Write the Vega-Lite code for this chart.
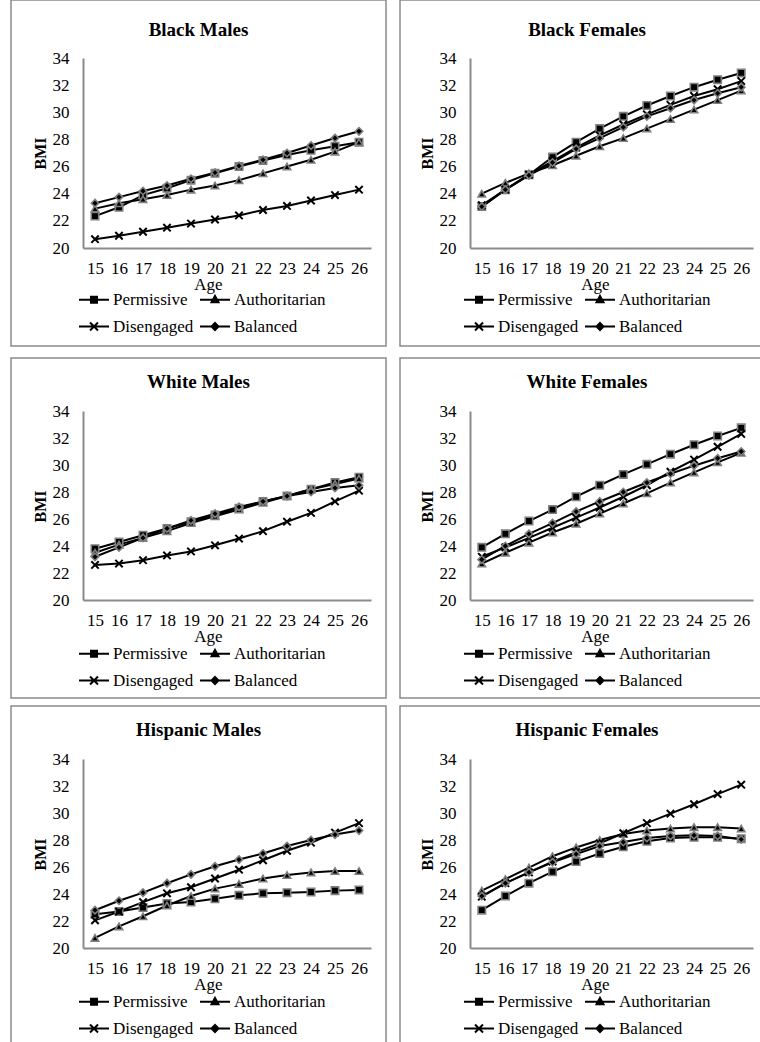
{
"$schema": "https://vega.github.io/schema/vega-lite/v6.json",
"padding": {"left": 10, "top": -1, "right": 0, "bottom": 0},
"background": "white",
"datasets": {
"bmi": [
{"g":"BM","s":"Permissive","age":15,"bmi":22.35},{"g":"BM","s":"Permissive","age":16,"bmi":23.0},{"g":"BM","s":"Permissive","age":17,"bmi":23.9},{"g":"BM","s":"Permissive","age":18,"bmi":24.4},{"g":"BM","s":"Permissive","age":19,"bmi":25.0},{"g":"BM","s":"Permissive","age":20,"bmi":25.5},{"g":"BM","s":"Permissive","age":21,"bmi":26.0},{"g":"BM","s":"Permissive","age":22,"bmi":26.45},{"g":"BM","s":"Permissive","age":23,"bmi":26.85},{"g":"BM","s":"Permissive","age":24,"bmi":27.2},{"g":"BM","s":"Permissive","age":25,"bmi":27.5},{"g":"BM","s":"Permissive","age":26,"bmi":27.8},
{"g":"BM","s":"Authoritarian","age":15,"bmi":22.9},{"g":"BM","s":"Authoritarian","age":16,"bmi":23.3},{"g":"BM","s":"Authoritarian","age":17,"bmi":23.6},{"g":"BM","s":"Authoritarian","age":18,"bmi":23.9},{"g":"BM","s":"Authoritarian","age":19,"bmi":24.3},{"g":"BM","s":"Authoritarian","age":20,"bmi":24.6},{"g":"BM","s":"Authoritarian","age":21,"bmi":25.0},{"g":"BM","s":"Authoritarian","age":22,"bmi":25.5},{"g":"BM","s":"Authoritarian","age":23,"bmi":26.0},{"g":"BM","s":"Authoritarian","age":24,"bmi":26.5},{"g":"BM","s":"Authoritarian","age":25,"bmi":27.1},{"g":"BM","s":"Authoritarian","age":26,"bmi":27.8},
{"g":"BM","s":"Disengaged","age":15,"bmi":20.65},{"g":"BM","s":"Disengaged","age":16,"bmi":20.9},{"g":"BM","s":"Disengaged","age":17,"bmi":21.2},{"g":"BM","s":"Disengaged","age":18,"bmi":21.5},{"g":"BM","s":"Disengaged","age":19,"bmi":21.8},{"g":"BM","s":"Disengaged","age":20,"bmi":22.1},{"g":"BM","s":"Disengaged","age":21,"bmi":22.4},{"g":"BM","s":"Disengaged","age":22,"bmi":22.8},{"g":"BM","s":"Disengaged","age":23,"bmi":23.1},{"g":"BM","s":"Disengaged","age":24,"bmi":23.5},{"g":"BM","s":"Disengaged","age":25,"bmi":23.9},{"g":"BM","s":"Disengaged","age":26,"bmi":24.3},
{"g":"BM","s":"Balanced","age":15,"bmi":23.3},{"g":"BM","s":"Balanced","age":16,"bmi":23.75},{"g":"BM","s":"Balanced","age":17,"bmi":24.2},{"g":"BM","s":"Balanced","age":18,"bmi":24.6},{"g":"BM","s":"Balanced","age":19,"bmi":25.1},{"g":"BM","s":"Balanced","age":20,"bmi":25.55},{"g":"BM","s":"Balanced","age":21,"bmi":26.05},{"g":"BM","s":"Balanced","age":22,"bmi":26.5},{"g":"BM","s":"Balanced","age":23,"bmi":27.0},{"g":"BM","s":"Balanced","age":24,"bmi":27.55},{"g":"BM","s":"Balanced","age":25,"bmi":28.1},{"g":"BM","s":"Balanced","age":26,"bmi":28.6},
{"g":"BF","s":"Permissive","age":15,"bmi":23.05},{"g":"BF","s":"Permissive","age":16,"bmi":24.3},{"g":"BF","s":"Permissive","age":17,"bmi":25.4},{"g":"BF","s":"Permissive","age":18,"bmi":26.7},{"g":"BF","s":"Permissive","age":19,"bmi":27.8},{"g":"BF","s":"Permissive","age":20,"bmi":28.8},{"g":"BF","s":"Permissive","age":21,"bmi":29.7},{"g":"BF","s":"Permissive","age":22,"bmi":30.5},{"g":"BF","s":"Permissive","age":23,"bmi":31.2},{"g":"BF","s":"Permissive","age":24,"bmi":31.85},{"g":"BF","s":"Permissive","age":25,"bmi":32.4},{"g":"BF","s":"Permissive","age":26,"bmi":32.9},
{"g":"BF","s":"Authoritarian","age":15,"bmi":24.0},{"g":"BF","s":"Authoritarian","age":16,"bmi":24.8},{"g":"BF","s":"Authoritarian","age":17,"bmi":25.5},{"g":"BF","s":"Authoritarian","age":18,"bmi":26.1},{"g":"BF","s":"Authoritarian","age":19,"bmi":26.8},{"g":"BF","s":"Authoritarian","age":20,"bmi":27.5},{"g":"BF","s":"Authoritarian","age":21,"bmi":28.1},{"g":"BF","s":"Authoritarian","age":22,"bmi":28.8},{"g":"BF","s":"Authoritarian","age":23,"bmi":29.5},{"g":"BF","s":"Authoritarian","age":24,"bmi":30.2},{"g":"BF","s":"Authoritarian","age":25,"bmi":30.9},{"g":"BF","s":"Authoritarian","age":26,"bmi":31.6},
{"g":"BF","s":"Disengaged","age":15,"bmi":23.15},{"g":"BF","s":"Disengaged","age":16,"bmi":24.3},{"g":"BF","s":"Disengaged","age":17,"bmi":25.4},{"g":"BF","s":"Disengaged","age":18,"bmi":26.4},{"g":"BF","s":"Disengaged","age":19,"bmi":27.4},{"g":"BF","s":"Disengaged","age":20,"bmi":28.3},{"g":"BF","s":"Disengaged","age":21,"bmi":29.1},{"g":"BF","s":"Disengaged","age":22,"bmi":29.85},{"g":"BF","s":"Disengaged","age":23,"bmi":30.55},{"g":"BF","s":"Disengaged","age":24,"bmi":31.2},{"g":"BF","s":"Disengaged","age":25,"bmi":31.7},{"g":"BF","s":"Disengaged","age":26,"bmi":32.3},
{"g":"BF","s":"Balanced","age":15,"bmi":23.05},{"g":"BF","s":"Balanced","age":16,"bmi":24.3},{"g":"BF","s":"Balanced","age":17,"bmi":25.35},{"g":"BF","s":"Balanced","age":18,"bmi":26.3},{"g":"BF","s":"Balanced","age":19,"bmi":27.3},{"g":"BF","s":"Balanced","age":20,"bmi":28.1},{"g":"BF","s":"Balanced","age":21,"bmi":28.9},{"g":"BF","s":"Balanced","age":22,"bmi":29.7},{"g":"BF","s":"Balanced","age":23,"bmi":30.3},{"g":"BF","s":"Balanced","age":24,"bmi":30.9},{"g":"BF","s":"Balanced","age":25,"bmi":31.4},{"g":"BF","s":"Balanced","age":26,"bmi":31.85},
{"g":"WM","s":"Permissive","age":15,"bmi":23.8},{"g":"WM","s":"Permissive","age":16,"bmi":24.3},{"g":"WM","s":"Permissive","age":17,"bmi":24.8},{"g":"WM","s":"Permissive","age":18,"bmi":25.3},{"g":"WM","s":"Permissive","age":19,"bmi":25.8},{"g":"WM","s":"Permissive","age":20,"bmi":26.3},{"g":"WM","s":"Permissive","age":21,"bmi":26.8},{"g":"WM","s":"Permissive","age":22,"bmi":27.3},{"g":"WM","s":"Permissive","age":23,"bmi":27.7},{"g":"WM","s":"Permissive","age":24,"bmi":28.2},{"g":"WM","s":"Permissive","age":25,"bmi":28.7},{"g":"WM","s":"Permissive","age":26,"bmi":29.1},
{"g":"WM","s":"Authoritarian","age":15,"bmi":23.5},{"g":"WM","s":"Authoritarian","age":16,"bmi":24.1},{"g":"WM","s":"Authoritarian","age":17,"bmi":24.6},{"g":"WM","s":"Authoritarian","age":18,"bmi":25.1},{"g":"WM","s":"Authoritarian","age":19,"bmi":25.7},{"g":"WM","s":"Authoritarian","age":20,"bmi":26.2},{"g":"WM","s":"Authoritarian","age":21,"bmi":26.7},{"g":"WM","s":"Authoritarian","age":22,"bmi":27.2},{"g":"WM","s":"Authoritarian","age":23,"bmi":27.7},{"g":"WM","s":"Authoritarian","age":24,"bmi":28.2},{"g":"WM","s":"Authoritarian","age":25,"bmi":28.6},{"g":"WM","s":"Authoritarian","age":26,"bmi":29.0},
{"g":"WM","s":"Disengaged","age":15,"bmi":22.6},{"g":"WM","s":"Disengaged","age":16,"bmi":22.7},{"g":"WM","s":"Disengaged","age":17,"bmi":22.95},{"g":"WM","s":"Disengaged","age":18,"bmi":23.3},{"g":"WM","s":"Disengaged","age":19,"bmi":23.6},{"g":"WM","s":"Disengaged","age":20,"bmi":24.05},{"g":"WM","s":"Disengaged","age":21,"bmi":24.55},{"g":"WM","s":"Disengaged","age":22,"bmi":25.1},{"g":"WM","s":"Disengaged","age":23,"bmi":25.8},{"g":"WM","s":"Disengaged","age":24,"bmi":26.45},{"g":"WM","s":"Disengaged","age":25,"bmi":27.3},{"g":"WM","s":"Disengaged","age":26,"bmi":28.1},
{"g":"WM","s":"Balanced","age":15,"bmi":23.2},{"g":"WM","s":"Balanced","age":16,"bmi":23.9},{"g":"WM","s":"Balanced","age":17,"bmi":24.6},{"g":"WM","s":"Balanced","age":18,"bmi":25.3},{"g":"WM","s":"Balanced","age":19,"bmi":25.9},{"g":"WM","s":"Balanced","age":20,"bmi":26.4},{"g":"WM","s":"Balanced","age":21,"bmi":26.9},{"g":"WM","s":"Balanced","age":22,"bmi":27.3},{"g":"WM","s":"Balanced","age":23,"bmi":27.7},{"g":"WM","s":"Balanced","age":24,"bmi":28.0},{"g":"WM","s":"Balanced","age":25,"bmi":28.3},{"g":"WM","s":"Balanced","age":26,"bmi":28.5},
{"g":"WF","s":"Permissive","age":15,"bmi":23.9},{"g":"WF","s":"Permissive","age":16,"bmi":24.9},{"g":"WF","s":"Permissive","age":17,"bmi":25.85},{"g":"WF","s":"Permissive","age":18,"bmi":26.7},{"g":"WF","s":"Permissive","age":19,"bmi":27.65},{"g":"WF","s":"Permissive","age":20,"bmi":28.5},{"g":"WF","s":"Permissive","age":21,"bmi":29.3},{"g":"WF","s":"Permissive","age":22,"bmi":30.05},{"g":"WF","s":"Permissive","age":23,"bmi":30.8},{"g":"WF","s":"Permissive","age":24,"bmi":31.5},{"g":"WF","s":"Permissive","age":25,"bmi":32.15},{"g":"WF","s":"Permissive","age":26,"bmi":32.75},
{"g":"WF","s":"Authoritarian","age":15,"bmi":22.7},{"g":"WF","s":"Authoritarian","age":16,"bmi":23.5},{"g":"WF","s":"Authoritarian","age":17,"bmi":24.25},{"g":"WF","s":"Authoritarian","age":18,"bmi":25.0},{"g":"WF","s":"Authoritarian","age":19,"bmi":25.65},{"g":"WF","s":"Authoritarian","age":20,"bmi":26.4},{"g":"WF","s":"Authoritarian","age":21,"bmi":27.15},{"g":"WF","s":"Authoritarian","age":22,"bmi":27.9},{"g":"WF","s":"Authoritarian","age":23,"bmi":28.7},{"g":"WF","s":"Authoritarian","age":24,"bmi":29.45},{"g":"WF","s":"Authoritarian","age":25,"bmi":30.2},{"g":"WF","s":"Authoritarian","age":26,"bmi":30.9},
{"g":"WF","s":"Disengaged","age":15,"bmi":23.2},{"g":"WF","s":"Disengaged","age":16,"bmi":23.9},{"g":"WF","s":"Disengaged","age":17,"bmi":24.6},{"g":"WF","s":"Disengaged","age":18,"bmi":25.35},{"g":"WF","s":"Disengaged","age":19,"bmi":26.1},{"g":"WF","s":"Disengaged","age":20,"bmi":26.85},{"g":"WF","s":"Disengaged","age":21,"bmi":27.65},{"g":"WF","s":"Disengaged","age":22,"bmi":28.5},{"g":"WF","s":"Disengaged","age":23,"bmi":29.5},{"g":"WF","s":"Disengaged","age":24,"bmi":30.4},{"g":"WF","s":"Disengaged","age":25,"bmi":31.35},{"g":"WF","s":"Disengaged","age":26,"bmi":32.3},
{"g":"WF","s":"Balanced","age":15,"bmi":23.0},{"g":"WF","s":"Balanced","age":16,"bmi":24.0},{"g":"WF","s":"Balanced","age":17,"bmi":24.9},{"g":"WF","s":"Balanced","age":18,"bmi":25.7},{"g":"WF","s":"Balanced","age":19,"bmi":26.55},{"g":"WF","s":"Balanced","age":20,"bmi":27.3},{"g":"WF","s":"Balanced","age":21,"bmi":28.0},{"g":"WF","s":"Balanced","age":22,"bmi":28.7},{"g":"WF","s":"Balanced","age":23,"bmi":29.35},{"g":"WF","s":"Balanced","age":24,"bmi":29.95},{"g":"WF","s":"Balanced","age":25,"bmi":30.5},{"g":"WF","s":"Balanced","age":26,"bmi":31.0},
{"g":"HM","s":"Permissive","age":15,"bmi":22.5},{"g":"HM","s":"Permissive","age":16,"bmi":22.7},{"g":"HM","s":"Permissive","age":17,"bmi":23.0},{"g":"HM","s":"Permissive","age":18,"bmi":23.3},{"g":"HM","s":"Permissive","age":19,"bmi":23.4},{"g":"HM","s":"Permissive","age":20,"bmi":23.65},{"g":"HM","s":"Permissive","age":21,"bmi":23.9},{"g":"HM","s":"Permissive","age":22,"bmi":24.05},{"g":"HM","s":"Permissive","age":23,"bmi":24.1},{"g":"HM","s":"Permissive","age":24,"bmi":24.15},{"g":"HM","s":"Permissive","age":25,"bmi":24.25},{"g":"HM","s":"Permissive","age":26,"bmi":24.3},
{"g":"HM","s":"Authoritarian","age":15,"bmi":20.75},{"g":"HM","s":"Authoritarian","age":16,"bmi":21.6},{"g":"HM","s":"Authoritarian","age":17,"bmi":22.35},{"g":"HM","s":"Authoritarian","age":18,"bmi":23.15},{"g":"HM","s":"Authoritarian","age":19,"bmi":23.85},{"g":"HM","s":"Authoritarian","age":20,"bmi":24.4},{"g":"HM","s":"Authoritarian","age":21,"bmi":24.75},{"g":"HM","s":"Authoritarian","age":22,"bmi":25.15},{"g":"HM","s":"Authoritarian","age":23,"bmi":25.4},{"g":"HM","s":"Authoritarian","age":24,"bmi":25.6},{"g":"HM","s":"Authoritarian","age":25,"bmi":25.7},{"g":"HM","s":"Authoritarian","age":26,"bmi":25.7},
{"g":"HM","s":"Disengaged","age":15,"bmi":22.05},{"g":"HM","s":"Disengaged","age":16,"bmi":22.7},{"g":"HM","s":"Disengaged","age":17,"bmi":23.4},{"g":"HM","s":"Disengaged","age":18,"bmi":24.05},{"g":"HM","s":"Disengaged","age":19,"bmi":24.5},{"g":"HM","s":"Disengaged","age":20,"bmi":25.15},{"g":"HM","s":"Disengaged","age":21,"bmi":25.8},{"g":"HM","s":"Disengaged","age":22,"bmi":26.5},{"g":"HM","s":"Disengaged","age":23,"bmi":27.2},{"g":"HM","s":"Disengaged","age":24,"bmi":27.8},{"g":"HM","s":"Disengaged","age":25,"bmi":28.55},{"g":"HM","s":"Disengaged","age":26,"bmi":29.25},
{"g":"HM","s":"Balanced","age":15,"bmi":22.8},{"g":"HM","s":"Balanced","age":16,"bmi":23.5},{"g":"HM","s":"Balanced","age":17,"bmi":24.1},{"g":"HM","s":"Balanced","age":18,"bmi":24.8},{"g":"HM","s":"Balanced","age":19,"bmi":25.45},{"g":"HM","s":"Balanced","age":20,"bmi":26.05},{"g":"HM","s":"Balanced","age":21,"bmi":26.55},{"g":"HM","s":"Balanced","age":22,"bmi":27.0},{"g":"HM","s":"Balanced","age":23,"bmi":27.55},{"g":"HM","s":"Balanced","age":24,"bmi":28.0},{"g":"HM","s":"Balanced","age":25,"bmi":28.4},{"g":"HM","s":"Balanced","age":26,"bmi":28.7},
{"g":"HF","s":"Permissive","age":15,"bmi":22.8},{"g":"HF","s":"Permissive","age":16,"bmi":23.85},{"g":"HF","s":"Permissive","age":17,"bmi":24.8},{"g":"HF","s":"Permissive","age":18,"bmi":25.65},{"g":"HF","s":"Permissive","age":19,"bmi":26.4},{"g":"HF","s":"Permissive","age":20,"bmi":27.0},{"g":"HF","s":"Permissive","age":21,"bmi":27.5},{"g":"HF","s":"Permissive","age":22,"bmi":27.9},{"g":"HF","s":"Permissive","age":23,"bmi":28.15},{"g":"HF","s":"Permissive","age":24,"bmi":28.2},{"g":"HF","s":"Permissive","age":25,"bmi":28.2},{"g":"HF","s":"Permissive","age":26,"bmi":28.1},
{"g":"HF","s":"Authoritarian","age":15,"bmi":24.25},{"g":"HF","s":"Authoritarian","age":16,"bmi":25.1},{"g":"HF","s":"Authoritarian","age":17,"bmi":25.95},{"g":"HF","s":"Authoritarian","age":18,"bmi":26.8},{"g":"HF","s":"Authoritarian","age":19,"bmi":27.45},{"g":"HF","s":"Authoritarian","age":20,"bmi":28.0},{"g":"HF","s":"Authoritarian","age":21,"bmi":28.45},{"g":"HF","s":"Authoritarian","age":22,"bmi":28.7},{"g":"HF","s":"Authoritarian","age":23,"bmi":28.85},{"g":"HF","s":"Authoritarian","age":24,"bmi":28.95},{"g":"HF","s":"Authoritarian","age":25,"bmi":28.95},{"g":"HF","s":"Authoritarian","age":26,"bmi":28.85},
{"g":"HF","s":"Disengaged","age":15,"bmi":23.8},{"g":"HF","s":"Disengaged","age":16,"bmi":24.8},{"g":"HF","s":"Disengaged","age":17,"bmi":25.6},{"g":"HF","s":"Disengaged","age":18,"bmi":26.4},{"g":"HF","s":"Disengaged","age":19,"bmi":27.1},{"g":"HF","s":"Disengaged","age":20,"bmi":27.75},{"g":"HF","s":"Disengaged","age":21,"bmi":28.5},{"g":"HF","s":"Disengaged","age":22,"bmi":29.25},{"g":"HF","s":"Disengaged","age":23,"bmi":29.95},{"g":"HF","s":"Disengaged","age":24,"bmi":30.65},{"g":"HF","s":"Disengaged","age":25,"bmi":31.4},{"g":"HF","s":"Disengaged","age":26,"bmi":32.1},
{"g":"HF","s":"Balanced","age":15,"bmi":23.85},{"g":"HF","s":"Balanced","age":16,"bmi":24.8},{"g":"HF","s":"Balanced","age":17,"bmi":25.6},{"g":"HF","s":"Balanced","age":18,"bmi":26.35},{"g":"HF","s":"Balanced","age":19,"bmi":26.95},{"g":"HF","s":"Balanced","age":20,"bmi":27.55},{"g":"HF","s":"Balanced","age":21,"bmi":27.85},{"g":"HF","s":"Balanced","age":22,"bmi":28.15},{"g":"HF","s":"Balanced","age":23,"bmi":28.3},{"g":"HF","s":"Balanced","age":24,"bmi":28.35},{"g":"HF","s":"Balanced","age":25,"bmi":28.3},{"g":"HF","s":"Balanced","age":26,"bmi":28.05}
]
},
"data": {"name": "bmi"},
"spacing": 10,
"resolve": {"scale": {"x": "independent", "y": "independent", "shape": "independent"}, "legend": {"shape": "independent"}},
"vconcat": [
{
"hconcat": [
{
"width": 375, "height": 346,
"title": {"text": "Black Males", "offset": -40},
"transform": [{"filter": "datum.g === 'BM'"}],
"encoding": {
  "x": {"field": "age", "type": "ordinal", "scale": {"type": "point", "padding": 0.5, "range": [72, 360]}, "axis": {"offset": -98, "title": "Age", "titleX": 197, "titleY": 41}},
  "y": {"field": "bmi", "type": "quantitative", "scale": {"domain": [20, 34], "range": [248, 58], "nice": false, "zero": false}, "axis": {"offset": -72, "title": "BMI", "titleX": -38, "titleY": 153}}
},
"layer": [
{"mark": {"type": "line", "color": "black", "strokeWidth": 2}, "encoding": {"detail": {"field": "s"}}},
{"transform": [{"filter": "datum.s === 'Permissive'"}], "mark": {"type": "point", "shape": "square", "filled": true, "fill": "black", "stroke": "#7f7f7f", "strokeWidth": 1.6, "size": 55, "opacity": 1}},
{"transform": [{"filter": "datum.s === 'Authoritarian'"}], "mark": {"type": "point", "shape": "triangle-up", "filled": true, "fill": "black", "stroke": "#7f7f7f", "strokeWidth": 1.6, "size": 55, "opacity": 1}},
{"transform": [{"filter": "datum.s === 'Disengaged'"}], "mark": {"type": "point", "shape": "M-1,-1L1,1M-1,1L1,-1", "filled": false, "stroke": "black", "strokeWidth": 2, "size": 55, "opacity": 1}},
{"transform": [{"filter": "datum.s === 'Balanced'"}], "mark": {"type": "point", "shape": "diamond", "filled": true, "fill": "black", "stroke": "#7f7f7f", "strokeWidth": 1.6, "size": 55, "opacity": 1}},
{"mark": {"type": "point", "filled": false, "color": "black", "strokeWidth": 2, "opacity": 0},
 "encoding": {"shape": {"field": "s", "type": "nominal", "scale": {"domain": ["Permissive", "Authoritarian", "Disengaged", "Balanced"], "range": ["M-1,0H2.53M0.412,-0.353H1.118V0.353H0.412ZM0.647,-0.118H0.883V0.118H0.647Z", "M-1,0H2.53M0.765,-0.45L1.175,0.3H0.355ZM0.765,-0.15L0.9,0.1H0.63Z", "M-1,0H2.53M0.295,-0.47L1.235,0.47M0.295,0.47L1.235,-0.47", "M-1,0H2.53M0.765,-0.41L1.175,0L0.765,0.41L0.355,0ZM0.765,-0.14L0.905,0L0.765,0.14L0.625,0Z"]}, "legend": {"legendX": 67, "legendY": 290, "symbolStrokeWidth": 2}}}}
]
},
{
"width": 374, "height": 346,
"title": {"text": "Black Females", "offset": -40},
"transform": [{"filter": "datum.g === 'BF'"}],
"encoding": {
  "x": {"field": "age", "type": "ordinal", "scale": {"type": "point", "padding": 0.5, "range": [70, 353]}, "axis": {"offset": -98, "title": "Age", "titleX": 195, "titleY": 41}},
  "y": {"field": "bmi", "type": "quantitative", "scale": {"domain": [20, 34], "range": [248, 58], "nice": false, "zero": false}, "axis": {"offset": -70, "title": "BMI", "titleX": -38, "titleY": 153}}
},
"layer": [
{"mark": {"type": "line", "color": "black", "strokeWidth": 2}, "encoding": {"detail": {"field": "s"}}},
{"transform": [{"filter": "datum.s === 'Permissive'"}], "mark": {"type": "point", "shape": "square", "filled": true, "fill": "black", "stroke": "#7f7f7f", "strokeWidth": 1.6, "size": 55, "opacity": 1}},
{"transform": [{"filter": "datum.s === 'Authoritarian'"}], "mark": {"type": "point", "shape": "triangle-up", "filled": true, "fill": "black", "stroke": "#7f7f7f", "strokeWidth": 1.6, "size": 55, "opacity": 1}},
{"transform": [{"filter": "datum.s === 'Disengaged'"}], "mark": {"type": "point", "shape": "M-1,-1L1,1M-1,1L1,-1", "filled": false, "stroke": "black", "strokeWidth": 2, "size": 55, "opacity": 1}},
{"transform": [{"filter": "datum.s === 'Balanced'"}], "mark": {"type": "point", "shape": "diamond", "filled": true, "fill": "black", "stroke": "#7f7f7f", "strokeWidth": 1.6, "size": 55, "opacity": 1}},
{"mark": {"type": "point", "filled": false, "color": "black", "strokeWidth": 2, "opacity": 0},
 "encoding": {"shape": {"field": "s", "type": "nominal", "scale": {"domain": ["Permissive", "Authoritarian", "Disengaged", "Balanced"], "range": ["M-1,0H2.53M0.412,-0.353H1.118V0.353H0.412ZM0.647,-0.118H0.883V0.118H0.647Z", "M-1,0H2.53M0.765,-0.45L1.175,0.3H0.355ZM0.765,-0.15L0.9,0.1H0.63Z", "M-1,0H2.53M0.295,-0.47L1.235,0.47M0.295,0.47L1.235,-0.47", "M-1,0H2.53M0.765,-0.41L1.175,0L0.765,0.41L0.355,0ZM0.765,-0.14L0.905,0L0.765,0.14L0.625,0Z"]}, "legend": {"legendX": 63, "legendY": 290, "symbolStrokeWidth": 2}}}}
]
}
],
"spacing": 12,
"resolve": {"scale": {"x": "independent", "y": "independent", "shape": "independent"}, "legend": {"shape": "independent"}}
},
{
"vconcat": [
{
"hconcat": [
{
"width": 375, "height": 340,
"title": {"text": "White Males", "offset": -34},
"transform": [{"filter": "datum.g === 'WM'"}],
"encoding": {
  "x": {"field": "age", "type": "ordinal", "scale": {"type": "point", "padding": 0.5, "range": [72, 360]}, "axis": {"offset": -98, "title": "Age", "titleX": 197, "titleY": 41}},
  "y": {"field": "bmi", "type": "quantitative", "scale": {"domain": [20, 34], "range": [242, 53], "nice": false, "zero": false}, "axis": {"offset": -72, "title": "BMI", "titleX": -38, "titleY": 148}}
},
"layer": [
{"mark": {"type": "line", "color": "black", "strokeWidth": 2}, "encoding": {"detail": {"field": "s"}}},
{"transform": [{"filter": "datum.s === 'Permissive'"}], "mark": {"type": "point", "shape": "square", "filled": true, "fill": "black", "stroke": "#7f7f7f", "strokeWidth": 1.6, "size": 55, "opacity": 1}},
{"transform": [{"filter": "datum.s === 'Authoritarian'"}], "mark": {"type": "point", "shape": "triangle-up", "filled": true, "fill": "black", "stroke": "#7f7f7f", "strokeWidth": 1.6, "size": 55, "opacity": 1}},
{"transform": [{"filter": "datum.s === 'Disengaged'"}], "mark": {"type": "point", "shape": "M-1,-1L1,1M-1,1L1,-1", "filled": false, "stroke": "black", "strokeWidth": 2, "size": 55, "opacity": 1}},
{"transform": [{"filter": "datum.s === 'Balanced'"}], "mark": {"type": "point", "shape": "diamond", "filled": true, "fill": "black", "stroke": "#7f7f7f", "strokeWidth": 1.6, "size": 55, "opacity": 1}},
{"mark": {"type": "point", "filled": false, "color": "black", "strokeWidth": 2, "opacity": 0},
 "encoding": {"shape": {"field": "s", "type": "nominal", "scale": {"domain": ["Permissive", "Authoritarian", "Disengaged", "Balanced"], "range": ["M-1,0H2.53M0.412,-0.353H1.118V0.353H0.412ZM0.647,-0.118H0.883V0.118H0.647Z", "M-1,0H2.53M0.765,-0.45L1.175,0.3H0.355ZM0.765,-0.15L0.9,0.1H0.63Z", "M-1,0H2.53M0.295,-0.47L1.235,0.47M0.295,0.47L1.235,-0.47", "M-1,0H2.53M0.765,-0.41L1.175,0L0.765,0.41L0.355,0ZM0.765,-0.14L0.905,0L0.765,0.14L0.625,0Z"]}, "legend": {"legendX": 67, "legendY": 286, "symbolStrokeWidth": 2}}}}
]
},
{
"width": 374, "height": 340,
"title": {"text": "White Females", "offset": -34},
"transform": [{"filter": "datum.g === 'WF'"}],
"encoding": {
  "x": {"field": "age", "type": "ordinal", "scale": {"type": "point", "padding": 0.5, "range": [70, 353]}, "axis": {"offset": -98, "title": "Age", "titleX": 195, "titleY": 41}},
  "y": {"field": "bmi", "type": "quantitative", "scale": {"domain": [20, 34], "range": [242, 53], "nice": false, "zero": false}, "axis": {"offset": -70, "title": "BMI", "titleX": -38, "titleY": 148}}
},
"layer": [
{"mark": {"type": "line", "color": "black", "strokeWidth": 2}, "encoding": {"detail": {"field": "s"}}},
{"transform": [{"filter": "datum.s === 'Permissive'"}], "mark": {"type": "point", "shape": "square", "filled": true, "fill": "black", "stroke": "#7f7f7f", "strokeWidth": 1.6, "size": 55, "opacity": 1}},
{"transform": [{"filter": "datum.s === 'Authoritarian'"}], "mark": {"type": "point", "shape": "triangle-up", "filled": true, "fill": "black", "stroke": "#7f7f7f", "strokeWidth": 1.6, "size": 55, "opacity": 1}},
{"transform": [{"filter": "datum.s === 'Disengaged'"}], "mark": {"type": "point", "shape": "M-1,-1L1,1M-1,1L1,-1", "filled": false, "stroke": "black", "strokeWidth": 2, "size": 55, "opacity": 1}},
{"transform": [{"filter": "datum.s === 'Balanced'"}], "mark": {"type": "point", "shape": "diamond", "filled": true, "fill": "black", "stroke": "#7f7f7f", "strokeWidth": 1.6, "size": 55, "opacity": 1}},
{"mark": {"type": "point", "filled": false, "color": "black", "strokeWidth": 2, "opacity": 0},
 "encoding": {"shape": {"field": "s", "type": "nominal", "scale": {"domain": ["Permissive", "Authoritarian", "Disengaged", "Balanced"], "range": ["M-1,0H2.53M0.412,-0.353H1.118V0.353H0.412ZM0.647,-0.118H0.883V0.118H0.647Z", "M-1,0H2.53M0.765,-0.45L1.175,0.3H0.355ZM0.765,-0.15L0.9,0.1H0.63Z", "M-1,0H2.53M0.295,-0.47L1.235,0.47M0.295,0.47L1.235,-0.47", "M-1,0H2.53M0.765,-0.41L1.175,0L0.765,0.41L0.355,0ZM0.765,-0.14L0.905,0L0.765,0.14L0.625,0Z"]}, "legend": {"legendX": 63, "legendY": 286, "symbolStrokeWidth": 2}}}}
]
}
],
"spacing": 12,
"resolve": {"scale": {"x": "independent", "y": "independent", "shape": "independent"}, "legend": {"shape": "independent"}}
},
{
"hconcat": [
{
"width": 375, "height": 340,
"title": {"text": "Hispanic Males", "offset": -34},
"transform": [{"filter": "datum.g === 'HM'"}],
"encoding": {
  "x": {"field": "age", "type": "ordinal", "scale": {"type": "point", "padding": 0.5, "range": [72, 360]}, "axis": {"offset": -98, "title": "Age", "titleX": 197, "titleY": 41}},
  "y": {"field": "bmi", "type": "quantitative", "scale": {"domain": [20, 34], "range": [242, 53], "nice": false, "zero": false}, "axis": {"offset": -72, "title": "BMI", "titleX": -38, "titleY": 148}}
},
"layer": [
{"mark": {"type": "line", "color": "black", "strokeWidth": 2}, "encoding": {"detail": {"field": "s"}}},
{"transform": [{"filter": "datum.s === 'Permissive'"}], "mark": {"type": "point", "shape": "square", "filled": true, "fill": "black", "stroke": "#7f7f7f", "strokeWidth": 1.6, "size": 55, "opacity": 1}},
{"transform": [{"filter": "datum.s === 'Authoritarian'"}], "mark": {"type": "point", "shape": "triangle-up", "filled": true, "fill": "black", "stroke": "#7f7f7f", "strokeWidth": 1.6, "size": 55, "opacity": 1}},
{"transform": [{"filter": "datum.s === 'Disengaged'"}], "mark": {"type": "point", "shape": "M-1,-1L1,1M-1,1L1,-1", "filled": false, "stroke": "black", "strokeWidth": 2, "size": 55, "opacity": 1}},
{"transform": [{"filter": "datum.s === 'Balanced'"}], "mark": {"type": "point", "shape": "diamond", "filled": true, "fill": "black", "stroke": "#7f7f7f", "strokeWidth": 1.6, "size": 55, "opacity": 1}},
{"mark": {"type": "point", "filled": false, "color": "black", "strokeWidth": 2, "opacity": 0},
 "encoding": {"shape": {"field": "s", "type": "nominal", "scale": {"domain": ["Permissive", "Authoritarian", "Disengaged", "Balanced"], "range": ["M-1,0H2.53M0.412,-0.353H1.118V0.353H0.412ZM0.647,-0.118H0.883V0.118H0.647Z", "M-1,0H2.53M0.765,-0.45L1.175,0.3H0.355ZM0.765,-0.15L0.9,0.1H0.63Z", "M-1,0H2.53M0.295,-0.47L1.235,0.47M0.295,0.47L1.235,-0.47", "M-1,0H2.53M0.765,-0.41L1.175,0L0.765,0.41L0.355,0ZM0.765,-0.14L0.905,0L0.765,0.14L0.625,0Z"]}, "legend": {"legendX": 67, "legendY": 286, "symbolStrokeWidth": 2}}}}
]
},
{
"width": 374, "height": 340,
"title": {"text": "Hispanic Females", "offset": -34},
"transform": [{"filter": "datum.g === 'HF'"}],
"encoding": {
  "x": {"field": "age", "type": "ordinal", "scale": {"type": "point", "padding": 0.5, "range": [70, 353]}, "axis": {"offset": -98, "title": "Age", "titleX": 195, "titleY": 41}},
  "y": {"field": "bmi", "type": "quantitative", "scale": {"domain": [20, 34], "range": [242, 53], "nice": false, "zero": false}, "axis": {"offset": -70, "title": "BMI", "titleX": -38, "titleY": 148}}
},
"layer": [
{"mark": {"type": "line", "color": "black", "strokeWidth": 2}, "encoding": {"detail": {"field": "s"}}},
{"transform": [{"filter": "datum.s === 'Permissive'"}], "mark": {"type": "point", "shape": "square", "filled": true, "fill": "black", "stroke": "#7f7f7f", "strokeWidth": 1.6, "size": 55, "opacity": 1}},
{"transform": [{"filter": "datum.s === 'Authoritarian'"}], "mark": {"type": "point", "shape": "triangle-up", "filled": true, "fill": "black", "stroke": "#7f7f7f", "strokeWidth": 1.6, "size": 55, "opacity": 1}},
{"transform": [{"filter": "datum.s === 'Disengaged'"}], "mark": {"type": "point", "shape": "M-1,-1L1,1M-1,1L1,-1", "filled": false, "stroke": "black", "strokeWidth": 2, "size": 55, "opacity": 1}},
{"transform": [{"filter": "datum.s === 'Balanced'"}], "mark": {"type": "point", "shape": "diamond", "filled": true, "fill": "black", "stroke": "#7f7f7f", "strokeWidth": 1.6, "size": 55, "opacity": 1}},
{"mark": {"type": "point", "filled": false, "color": "black", "strokeWidth": 2, "opacity": 0},
 "encoding": {"shape": {"field": "s", "type": "nominal", "scale": {"domain": ["Permissive", "Authoritarian", "Disengaged", "Balanced"], "range": ["M-1,0H2.53M0.412,-0.353H1.118V0.353H0.412ZM0.647,-0.118H0.883V0.118H0.647Z", "M-1,0H2.53M0.765,-0.45L1.175,0.3H0.355ZM0.765,-0.15L0.9,0.1H0.63Z", "M-1,0H2.53M0.295,-0.47L1.235,0.47M0.295,0.47L1.235,-0.47", "M-1,0H2.53M0.765,-0.41L1.175,0L0.765,0.41L0.355,0ZM0.765,-0.14L0.905,0L0.765,0.14L0.625,0Z"]}, "legend": {"legendX": 63, "legendY": 286, "symbolStrokeWidth": 2}}}}
]
}
],
"spacing": 12,
"resolve": {"scale": {"x": "independent", "y": "independent", "shape": "independent"}, "legend": {"shape": "independent"}}
}
],
"spacing": 6,
"resolve": {"scale": {"x": "independent", "y": "independent", "shape": "independent"}, "legend": {"shape": "independent"}}
}
],
"config": {
 "view": {"stroke": "#8a8a8a", "strokeWidth": 1.5},
 "font": "Liberation Serif",
 "title": {"font": "Liberation Serif", "fontSize": 19, "fontWeight": "bold", "color": "#000000", "anchor": "middle", "frame": "group", "baseline": "alphabetic"},
 "axis": {"domainColor": "#8a8a8a", "domainWidth": 2, "ticks": false, "grid": false, "labelFont": "Liberation Serif", "labelFontSize": 17, "labelColor": "#000000", "titleFont": "Liberation Serif", "titleColor": "#000000", "titleFontSize": 17},
 "axisX": {"labelAngle": 0, "labelPadding": 12, "titleFontWeight": "normal", "titleBaseline": "alphabetic", "titleAlign": "center"},
 "axisY": {"values": [20, 22, 24, 26, 28, 30, 32, 34], "labelPadding": 14, "titleFontWeight": "bold", "titleFontSize": 16, "titleAngle": -90, "titleBaseline": "alphabetic", "titleAlign": "center"},
 "legend": {"orient": "none", "direction": "horizontal", "gridAlign": "each", "title": null, "columns": 2, "padding": 0, "labelFont": "Liberation Serif", "labelFontSize": 17, "labelColor": "#000000", "symbolSize": 289, "symbolOpacity": 1, "labelOffset": 16, "columnPadding": 2, "rowPadding": 9}
}
}
